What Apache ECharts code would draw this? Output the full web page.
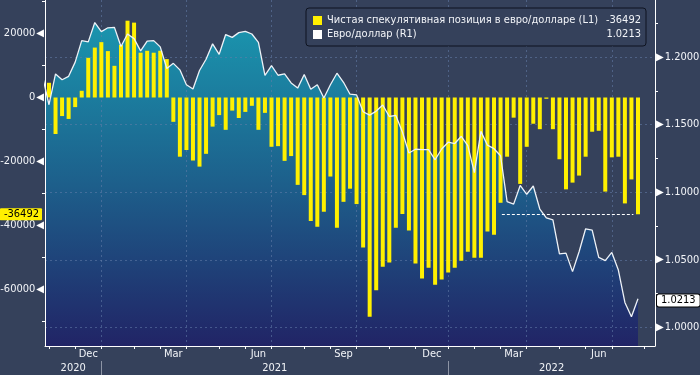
<!DOCTYPE html>
<html>
<head>
<meta charset="utf-8">
<script src="https://cdn.jsdelivr.net/npm/echarts@6/dist/echarts.min.js"></script>
<style>
html,body{margin:0;padding:0;background:#35415b;}
#c{width:700px;height:375px;}
</style>
</head>
<body>
<div id="c"></div>
<script>
// ---- DATA ----
// Weekly observations (Fridays) starting 2020-10-23; array position k -> x index k-1
const firstWeek = '2020-10-23';
const eurusd = [
  1.1860, 1.1647, 1.1875, 1.1832, 1.1857, 1.1962, 1.2121, 1.2112, 1.2255, 1.2188,
  1.2216, 1.2219, 1.2078, 1.2170, 1.2136, 1.2045, 1.2118, 1.2121, 1.2075, 1.1915,
  1.1953, 1.1905, 1.1795, 1.1763, 1.1900, 1.1983, 1.2097, 1.2020, 1.2166, 1.2145,
  1.2180, 1.2190, 1.2170, 1.2108, 1.1864, 1.1936, 1.1865, 1.1875, 1.1808, 1.1770,
  1.1870, 1.1761, 1.1795, 1.1697, 1.1795, 1.1880, 1.1813, 1.1725, 1.1720, 1.1595,
  1.1570, 1.1600, 1.1645, 1.1560, 1.1568, 1.1445, 1.1290, 1.1318, 1.1315, 1.1315,
  1.1240, 1.1320, 1.1370, 1.1360, 1.1414, 1.1345, 1.1145, 1.1450, 1.1348, 1.1322,
  1.1270, 1.0930, 1.0912, 1.1050, 1.0985, 1.1046, 1.0876, 1.0810, 1.0795, 1.0545,
  1.0550, 1.0413, 1.0560, 1.0730, 1.0720, 1.0518, 1.0495, 1.0555, 1.0425, 1.0185,
  1.0080, 1.0213
];
const netPos = [
  null,
  4600, -11400, -5800, -6700, -3000, 2100, 12400, 15600, 17300, 14500,
  9900, 16400, 24000, 23400, 14000, 14600, 14000, 14600, 12000, -7600,
  -18500, -16400, -19700, -21600, -17600, -9100, -5500, -10100, -4100, -6400,
  -4500, -2600, -10100, -4800, -15400, -15200, -19800, -18300, -27300, -30500,
  -38600, -40400, -35700, -24700, -40700, -32600, -28500, -33300, -46900, -68500,
  -60200, -52900, -51600, -40700, -36400, -41600, -51900, -56600, -53200, -58500,
  -56900, -54700, -53200, -51000, -48200, -50100, -50100, -41900, -42900, -32900,
  -18500, -6300, -27000, -15400, -8200, -9900, -400, -9900, -19300, -28700,
  -26600, -24400, -18500, -10700, -10400, -29400, -18700, -18500, -33100, -25600,
  -36492
];
const seriesNames = ['Чистая спекулятивная позиция в евро/долларе (L1)', 'Евро/доллар (R1)'];
const monthNames = ['Jan','Feb','Mar','Apr','May','Jun','Jul','Aug','Sep','Oct','Nov','Dec'];
const shownMonths = ['Dec','Mar','Jun','Sep'];
const leftTickLabels = [-60000, -40000, -20000, 0, 20000];
const leftMinorTicks = [-70000, -50000, -30000, -10000, 10000, 30000];
const rightTickLabels = [1.0, 1.05, 1.1, 1.15, 1.2];
const rightMinorTicks = [1.025, 1.075, 1.125, 1.175, 1.225];
// reference level line (dashed) drawn at the last position value, in week-index units
const refLineFrom = 69.2, refLineTo = 89.3;

// ---- LAYOUT / SCALES ----
const X_MIN = -0.61, X_MAX = 92.6;
const L_MIN = -77656, L_MAX = 30469;
const R_MIN = 0.98632, R_MAX = 1.24214;
const FONT = '"DejaVu Sans Condensed", "Liberation Sans", sans-serif';
const TXT = '#f2f4f8';
const BG = '#35415b';
const CLEAR = 'rgba(0,0,0,0)';

const start = new Date(firstWeek + 'T00:00:00Z').getTime();
const WEEK = 7 * 864e5;
const dateAtX = x => new Date(start + (x + 1) * WEEK);

const fxData = eurusd.map((v, k) => [k - 1, v]);
const netData = netPos.map((v, k) => [k - 1, v]);
const lastNet = netPos[netPos.length - 1];
const lastFx = eurusd[eurusd.length - 1];

// month-end ticks (last weekly point of each month)
const monthTicks = [];
for (let x = Math.ceil(X_MIN); x <= Math.floor(X_MAX); x++) {
  if (dateAtX(x).getUTCMonth() !== dateAtX(x + 1).getUTCMonth()) monthTicks.push(x);
}
const monthLabelPos = [], monthLabelMap = {};
for (let j = 1; j < monthTicks.length; j++) {
  const p = (monthTicks[j - 1] + monthTicks[j]) / 2;
  const name = monthNames[dateAtX(monthTicks[j]).getUTCMonth()];
  if (shownMonths.includes(name)) { monthLabelPos.push(p); monthLabelMap[p] = name; }
}
const yearSeps = monthTicks.filter(x => dateAtX(x).getUTCMonth() === 11);
const quarterLines = monthTicks.filter(x => [2,5,8,11].includes(dateAtX(x).getUTCMonth()));
const yb = [X_MIN].concat(yearSeps, [X_MAX]);
const yearLabelPos = [], yearLabelMap = {};
for (let j = 1; j < yb.length; j++) {
  const p = (yb[j - 1] + yb[j]) / 2;
  yearLabelPos.push(p);
  yearLabelMap[p] = String(dateAtX(Math.round(p)).getUTCFullYear());
}

const legendValues = {};
legendValues[seriesNames[0]] = String(lastNet);
legendValues[seriesNames[1]] = lastFx.toFixed(4);

const chart = echarts.init(document.getElementById('c'), null, {renderer: 'canvas'});
const gridDash = {color: 'rgba(100,125,170,0.55)', type: [2, 3], width: 1};

chart.setOption({
  animation: false,
  backgroundColor: BG,
  textStyle: {fontFamily: FONT},
  grid: {left: 45, right: 45, top: 0, bottom: 29, containLabel: false, outerBoundsMode: 'none'},
  legend: {
    left: 306, top: 8, orient: 'vertical',
    itemWidth: 9, itemHeight: 9, itemGap: 1,
    padding: [6, 5, 5, 7],
    backgroundColor: BG, borderColor: '#0e1320', borderWidth: 1, borderRadius: 3,
    selectedMode: false,
    data: [{name: seriesNames[0], icon: 'rect'}, {name: seriesNames[1], icon: 'rect'}],
    formatter: name => '{n|' + name + '}{v|' + legendValues[name] + '}',
    textStyle: {
      color: TXT, fontSize: 11, fontFamily: FONT, lineHeight: 13,
      rich: {
        n: {width: 270, color: TXT, fontSize: 11, fontFamily: FONT, lineHeight: 13},
        v: {width: 44, align: 'right', color: TXT, fontSize: 11, fontFamily: FONT, lineHeight: 13}
      }
    }
  },
  xAxis: [
    {
      type: 'value', min: X_MIN, max: X_MAX, position: 'bottom',
      axisLine: {show: true, onZero: false, lineStyle: {color: '#ffffff', width: 1}},
      axisTick: {show: true, customValues: monthTicks, length: 3, inside: false, lineStyle: {color: '#ffffff'}},
      axisLabel: {customValues: monthLabelPos, formatter: v => monthLabelMap[v] || '', color: TXT, fontSize: 11, fontFamily: FONT, margin: 3},
      splitLine: {show: false}
    },
    {
      type: 'value', min: X_MIN, max: X_MAX, position: 'bottom', offset: 15,
      axisLine: {show: false, onZero: false},
      axisTick: {show: true, customValues: yearSeps, length: 14, inside: false, lineStyle: {color: '#8d94a5', width: 1}},
      axisLabel: {customValues: yearLabelPos, formatter: v => yearLabelMap[v] || '', color: TXT, fontSize: 11, fontFamily: FONT, margin: 2},
      splitLine: {show: false}
    },
    {
      type: 'value', min: X_MIN, max: X_MAX, position: 'top',
      axisLine: {show: false, onZero: false},
      axisTick: {show: false, customValues: quarterLines},
      axisLabel: {show: false},
      splitLine: {show: true, lineStyle: gridDash}
    }
  ],
  yAxis: [
    {
      type: 'value', min: L_MIN, max: L_MAX, position: 'left',
      axisLine: {show: true, onZero: false, lineStyle: {color: '#ffffff', width: 1}},
      axisTick: {show: true, customValues: leftMinorTicks, length: 3, lineStyle: {color: '#ffffff'}},
      axisLabel: {
        customValues: leftTickLabels, margin: 1,
        formatter: v => '{v|' + v + '}{t|◀}',
        rich: {
          v: {color: TXT, fontSize: 11, fontFamily: FONT},
          t: {color: '#ffffff', fontSize: 10, fontFamily: 'DejaVu Sans', padding: [0, 0, 0, 1]}
        }
      },
      splitLine: {show: false}
    },
    {
      type: 'value', min: R_MIN, max: R_MAX, position: 'right',
      axisLine: {show: true, onZero: false, lineStyle: {color: '#ffffff', width: 1}},
      axisTick: {show: true, customValues: rightMinorTicks, length: 3, lineStyle: {color: '#ffffff'}},
      axisLabel: {
        customValues: rightTickLabels, margin: 1,
        formatter: v => '{t|▶}{v|' + v.toFixed(4) + '}',
        rich: {
          v: {color: TXT, fontSize: 11, fontFamily: FONT},
          t: {color: '#ffffff', fontSize: 10, fontFamily: 'DejaVu Sans', padding: [0, 1, 0, 0]}
        }
      },
      splitLine: {show: false}
    },
    {
      type: 'value', min: R_MIN, max: R_MAX, position: 'right',
      axisLine: {show: false, onZero: false},
      axisTick: {show: false, customValues: rightTickLabels},
      axisLabel: {show: false},
      splitLine: {show: true, lineStyle: gridDash}
    }
  ],
  series: [
    {
      name: 'area', type: 'line', xAxisIndex: 0, yAxisIndex: 1, z: -1, silent: true,
      data: fxData, symbol: 'none', lineStyle: {width: 0},
      areaStyle: {
        opacity: 1,
        color: new echarts.graphic.LinearGradient(0, 0, 0, 1, [
          {offset: 0, color: '#1a95ae'},
          {offset: 0.5, color: '#1d5f8b'},
          {offset: 1, color: '#212466'}
        ])
      }
    },
    {
      name: seriesNames[0], type: 'bar', xAxisIndex: 0, yAxisIndex: 0, z: 2,
      data: netData, barWidth: 4, color: '#fff000', itemStyle: {color: '#fff000'},
      markLine: {
        silent: true, symbol: 'none', animation: false,
        data: [
          {
            yAxis: lastNet, lineStyle: {color: CLEAR, width: 1, type: 'solid'},
            label: {
              show: true, position: 'start', distance: 3, formatter: String(lastNet),
              backgroundColor: '#fff000', color: '#000000', fontSize: 11, fontFamily: FONT,
              padding: [1, 3, 0, 4], borderRadius: 1
            }
          },
          [
            {coord: [refLineFrom, lastNet], lineStyle: {color: '#ffffff', type: [3, 2], width: 1}, label: {show: false}},
            {coord: [refLineTo, lastNet]}
          ]
        ]
      }
    },
    {
      name: seriesNames[1], type: 'line', xAxisIndex: 0, yAxisIndex: 1, z: 3,
      data: fxData, symbol: 'none', color: '#ffffff', itemStyle: {color: '#ffffff'},
      lineStyle: {color: '#eef2f7', width: 1.3},
      markLine: {
        silent: true, symbol: 'none', animation: false,
        data: [{
          yAxis: lastFx, lineStyle: {color: CLEAR, width: 1, type: 'solid'},
          label: {
            show: true, position: 'end', distance: 2, formatter: lastFx.toFixed(4),
            backgroundColor: '#ffffff', color: '#000000', borderColor: '#000000', borderWidth: 1,
            fontSize: 11, fontFamily: FONT, padding: [1, 4, 0, 4], borderRadius: 2
          }
        }]
      }
    }
  ]
});
</script>
</body>
</html>
